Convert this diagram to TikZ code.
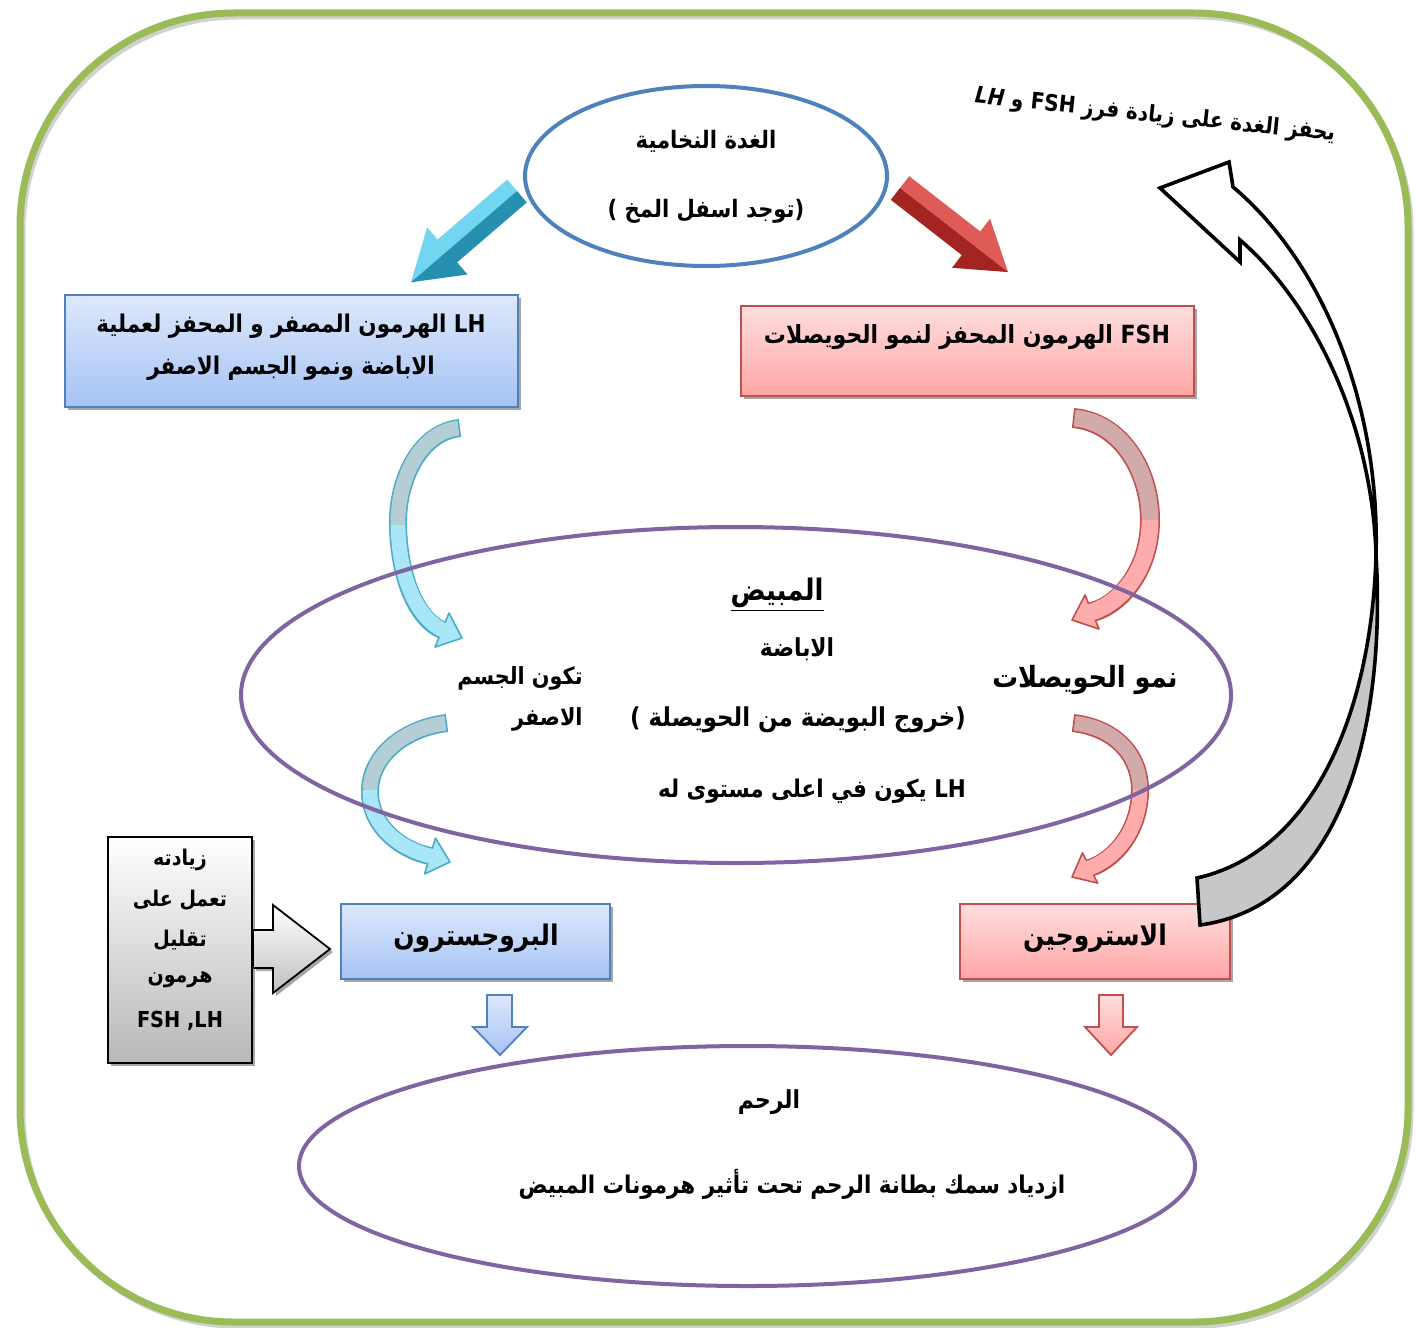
\documentclass[tikz,border=0pt]{standalone}
\usepackage{fontspec}
\setmainfont{DejaVu Sans}
\newfontfamily\ar[Script=Arabic, FakeStretch=0.88]{DejaVu Sans}
\TeXXeTstate=1
\usetikzlibrary{shapes.geometric,shadows}

\definecolor{frameG}{HTML}{9BBB59}
\definecolor{ovalB}{HTML}{4F81BD}
\definecolor{ovalP}{HTML}{8064A2}
\definecolor{bt}{HTML}{DDE8FB}
\definecolor{bb}{HTML}{A6C3F4}
\definecolor{bline}{HTML}{4F81BD}
\definecolor{rt}{HTML}{FFDEDE}
\definecolor{rb}{HTML}{FFA6A6}
\definecolor{rline}{HTML}{C0504D}
\definecolor{cyLine}{HTML}{4BACC6}
\definecolor{cyBack}{HTML}{B5CDD4}
\definecolor{cyFront}{HTML}{A8E6F8}
\definecolor{rdBack}{HTML}{D3AAAA}
\definecolor{rdFront}{HTML}{FFACAC}
\definecolor{arBl}{HTML}{72D6F0}
\definecolor{arBm}{HTML}{3CB6D4}
\definecolor{arBd}{HTML}{2690B0}
\definecolor{arRl}{HTML}{E05A57}
\definecolor{arRm}{HTML}{C8302E}
\definecolor{arRd}{HTML}{A42422}

\newcommand{\afs}[1]{\ar\bfseries\fontsize{#1}{#1}\selectfont}

\tikzset{
  txt/.style={font=\afs{12.4}, inner sep=0pt, text=black},
  shd/.style={drop shadow={shadow xshift=1.5pt, shadow yshift=-1.5pt, opacity=0.35, fill=black}},
  bluebox/.style={rectangle, draw=bline, line width=0.9pt, top color=bt, bottom color=bb, shd, inner sep=0pt},
  redbox/.style={rectangle, draw=rline, line width=0.9pt, top color=rt, bottom color=rb, shd, inner sep=0pt},
  oval/.style={ellipse, draw=#1, line width=2pt, inner sep=0pt},
  headtri/.style={draw=#1, line width=0.8pt, line join=round},
}

\begin{document}
\begin{tikzpicture}[x=0.5pt,y=-0.5pt]
\useasboundingbox (0,0) rectangle (1416,1327);
\fill[white] (0,0) rectangle (1416,1327);

% frame
\draw[black!40, line width=2.5pt, rounded corners=107pt, opacity=0.45] (23,17) rectangle (1411,1326);
\draw[frameG, line width=3.5pt, rounded corners=107pt] (20,13) rectangle (1408,1322);

% pituitary
\node[oval=ovalB, minimum width=181pt, minimum height=90pt] (pit) at (706,176) {};
\node[txt, font=\afs{12}] (pitA) at (706,141) {\beginR الغدة النخامية\endR};
\node[txt, font=\afs{12}] (pitB) at (706,211) {\beginR (توجد اسفل المخ )\endR};

% 3D arrows (two-tone halves)
\fill[arBl] (517,191) -- (507.2,179.6) -- (437.5,239.6) -- (427.1,227.5) -- (410.9,282.3) -- (447.3,251.0) -- cycle;
\fill[arBd] (517,191) -- (447.3,251.0) -- (410.9,282.3) -- (467.5,274.5) -- (457.1,262.4) -- (526.8,202.4) -- cycle;
\fill[arRl] (900,188) -- (909.2,176.2) -- (980.2,231.5) -- (990.0,218.8) -- (1008.1,272.1) -- (971.0,243.3) -- cycle;
\fill[arRd] (900,188) -- (971.0,243.3) -- (1008.1,272.1) -- (952.0,267.8) -- (961.8,255.1) -- (890.8,199.8) -- cycle;

% LH box
\node[bluebox, minimum width=226.5pt, minimum height=56pt] (lhbox) at (291.5,351) {};
\node[txt, align=center, font=\ar\bfseries\fontsize{12.2}{21}\selectfont] (lhtxt) at (291,347)
  {\beginR\beginL LH\endL{} الهرمون المصفر و المحفز لعملية\endR\\\beginR الاباضة ونمو الجسم الاصفر\endR};

% FSH box
\node[redbox, minimum width=226.5pt, minimum height=45pt] (fshbox) at (967.5,351) {};
\node[txt, font=\afs{12.5}] (fshtxt) at (967,337) {\beginR\beginL FSH\endL{} الهرمون المحفز لنمو الحويصلات\endR};

% curved arrows (blue)
\draw[cyLine, line width=9pt] (460,428) .. controls (420,432) and (397,480) .. (398,525) .. controls (399,580) and (418,620) .. (442,630);
\filldraw[headtri=cyLine, fill=cyFront] (449,613) -- (462,638) -- (435,647) -- cycle;
\draw[cyBack, line width=7.4pt, shorten <=0.8pt] (460,428) .. controls (420,432) and (397,480) .. (398,525);
\draw[cyFront, line width=7.4pt, shorten >=-2pt] (398,525) .. controls (399,580) and (418,620) .. (442,630);

\draw[cyLine, line width=9pt] (447,723) .. controls (405,728) and (371,755) .. (370,790) .. controls (369,825) and (400,850) .. (430,856);
\filldraw[headtri=cyLine, fill=cyFront] (435.5,838) -- (450,862) -- (424.5,874) -- cycle;
\draw[cyBack, line width=7.4pt, shorten <=0.8pt] (447,723) .. controls (405,728) and (371,755) .. (370,790);
\draw[cyFront, line width=7.4pt, shorten >=-2pt] (370,790) .. controls (369,825) and (400,850) .. (430,856);

% curved arrows (red)
\draw[rline, line width=10pt] (1073,418) .. controls (1120,422) and (1150,470) .. (1150,520) .. controls (1150,570) and (1120,605) .. (1092,612);
\filldraw[headtri=rline, fill=rdFront] (1085,595) -- (1072,620) -- (1099,629) -- cycle;
\draw[rdBack, line width=8.4pt, shorten <=0.8pt] (1073,418) .. controls (1120,422) and (1150,470) .. (1150,520);
\draw[rdFront, line width=8.4pt, shorten >=-2pt] (1150,520) .. controls (1150,570) and (1120,605) .. (1092,612);

\draw[rline, line width=9pt] (1073,723) .. controls (1115,728) and (1140,755) .. (1140,790) .. controls (1140,830) and (1115,860) .. (1090,868);
\filldraw[headtri=rline, fill=rdFront] (1082.4,852.8) -- (1072,877) -- (1097.6,883) -- cycle;
\draw[rdBack, line width=7.4pt, shorten <=0.8pt] (1073,723) .. controls (1115,728) and (1140,755) .. (1140,790);
\draw[rdFront, line width=7.4pt, shorten >=-2pt] (1140,790) .. controls (1140,830) and (1115,860) .. (1090,868);

% ovary
\node[oval=ovalP, minimum width=495pt, minimum height=168pt] (ovary) at (736,695) {};
\node[txt, font=\afs{14.8}] (ovT) at (777,595) {\beginR\underline{المبيض}\endR};
\node[txt, font=\afs{12.4}] (ov1) at (797,649) {\beginR الاباضة\endR};
\node[txt, anchor=east, font=\afs{11.8}] (ov2) at (583,678) {\beginR تكون الجسم\endR};
\node[txt, anchor=east, font=\afs{11.8}] (ov3) at (583,719) {\beginR الاصفر\endR};
\node[txt, font=\afs{14.6}] (ov4) at (1085,680) {\beginR نمو الحويصلات\endR};
\node[txt, font=\afs{13}] (ov5) at (798,720) {\beginR (خروج البويضة من الحويصلة )\endR};
\node[txt, font=\afs{12.2}] (ov6) at (812,791) {\beginR\beginL LH\endL{} يكون في اعلى مستوى له\endR};

% gray box and its arrow
\node[draw=black, line width=0.9pt, top color=white, bottom color=black!28, shd, minimum width=72pt, minimum height=113pt, inner sep=0pt] (gbox) at (180,950) {};
\node[txt, font=\afs{10.8}] (g1) at (180,860) {\beginR زيادته\endR};
\node[txt, font=\afs{10.8}] (g2) at (180,900) {\beginR تعمل على\endR};
\node[txt, font=\afs{10.8}] (g3) at (180,940) {\beginR تقليل\endR};
\node[txt, font=\afs{10.8}] (g4) at (180,980) {\beginR هرمون\endR};
\node[txt, font=\afs{11}] (g5) at (180,1021) {FSH ,LH};

% progesterone / estrogen
\node[bluebox, minimum width=134.5pt, minimum height=37.5pt] (prog) at (475.5,941.5) {};
\node[txt, font=\afs{14.2}] (progT) at (476,938) {\beginR البروجسترون\endR};
\node[redbox, minimum width=135pt, minimum height=37.5pt] (estr) at (1095,941.5) {};
\node[txt, font=\afs{14.2}] (estrT) at (1095,938) {\beginR الاستروجين\endR};

\draw[black, line width=0.9pt, top color=white, bottom color=black!25, shd]
  (gbox.east |- 0,930) -- (273,930) -- (273,905) -- (330,949) -- (273,993) -- (273,968) -- (gbox.east |- 0,968) -- cycle;

% down block arrows
\draw[draw=bline, line width=0.9pt, top color=bt, bottom color=bb]
  (487,995) -- (512,995) -- (512,1027) -- (527,1027) -- (500,1055) -- (473,1027) -- (487,1027) -- cycle;
\draw[draw=rline, line width=0.9pt, top color=rt, bottom color=rb]
  (1099,995) -- (1123,995) -- (1123,1027) -- (1137,1027) -- (1111,1055) -- (1085,1027) -- (1099,1027) -- cycle;

% uterus
\node[oval=ovalP, minimum width=448pt, minimum height=120pt] (uterus) at (747,1166) {};
\node[txt, font=\afs{12.4}] (u1) at (769,1102) {\beginR الرحم\endR};
\node[txt, font=\afs{12.2}] (u2) at (792,1184) {\beginR ازدياد سمك بطانة الرحم تحت تأثير هرمونات المبيض\endR};

% feedback arrow
\fill[black!22] (1197,878) .. controls (1320,850) and (1372,700) .. (1376,555) .. controls (1386,720) and (1345,905) .. (1200,925) -- cycle;
\fill[white] (1376,555) .. controls (1380,400) and (1320,260) .. (1233,187) -- (1229,162) -- (1160,188) -- (1240,262) -- (1240,240) .. controls (1310,300) and (1372,420) .. (1376,555) -- cycle;
\draw[black, line width=1.8pt, line join=miter]
  (1197,878) .. controls (1320,850) and (1372,700) .. (1376,555) .. controls (1380,400) and (1320,260) .. (1233,187)
  -- (1229,162) -- (1160,188) -- (1240,262) -- (1240,240)
  .. controls (1310,300) and (1372,420) .. (1376,555) .. controls (1386,720) and (1345,905) .. (1200,925) -- cycle;

\node[txt, rotate=-6, font=\afs{11.4}] (fb) at (1155,116) {\beginR يحفز الغدة على زيادة فرز \beginL FSH\endL{} و \beginL\itshape LH\endL\endR};
\end{tikzpicture}
\end{document}
